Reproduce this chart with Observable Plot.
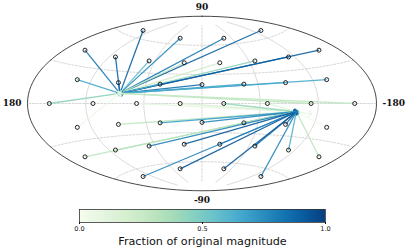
<!DOCTYPE html>
<html><head><meta charset="utf-8">
<script src="https://cdn.jsdelivr.net/npm/d3@7"></script>
<script src="https://cdn.jsdelivr.net/npm/@observablehq/plot@0.6"></script>
<style>html,body{margin:0;padding:0;background:#fff}svg{display:block}</style>
</head><body><div id="chart"></div>
<script>
const focusLon = [85.5, -98];
const focusLat = [9.5, -7.5];
const sourceLon = [
  135,45,-45,-135,
  157.5,112.5,67.5,22.5,-22.5,-67.5,-112.5,-157.5,
  135,90,45,0,-45,-90,-135,
  157.5,112.5,67.5,22.5,-22.5,-67.5,-112.5,-157.5,
  135,90,45,0,-45,-90,-135,
  157.5,112.5,67.5,22.5,-22.5,-67.5,-112.5,-157.5,
  135,45,-45,-135];
const sourceLat = [
  66.4,66.4,66.4,66.4,
  41.8,41.8,41.8,41.8,41.8,41.8,41.8,41.8,
  19.47,19.47,19.47,19.47,19.47,19.47,19.47,
  0,0,0,0,0,0,0,0,
  -19.47,-19.47,-19.47,-19.47,-19.47,-19.47,-19.47,
  -41.8,-41.8,-41.8,-41.8,-41.8,-41.8,-41.8,-41.8,
  -66.4,-66.4,-66.4,-66.4];
const target = [
  0,0,0,0,
  0,0,0,0,0,0,0,0,
  0,0,0,0,0,0,0,
  0,0,1,1,1,1,0,0,
  0,1,1,1,1,1,1,
  1,1,1,1,1,1,1,1,
  1,1,1,1];
const fraction = [
  .9,.75,.82,.9,
  .82,.88,.58,.3,.22,.45,.9,.9,
  .65,.85,.65,.85,.65,.65,.65,
  .45,.04,.08,.15,.42,.12,.3,.28,
  .05,.3,.68,.76,.9,.85,.05,
  .3,.32,.78,.92,.85,.85,.62,.3,
  .78,.92,.92,.78];
const graticuleMajor = [-60,-30,0,30,60];
const meridiansDashed = [0];
const meridiansSolid = [-120,-60,60,120];

const pairs = sourceLon.map((lon, i) => ({lon, lat: sourceLat[i], f: fraction[i], tLon: focusLon[target[i]], tLat: focusLat[target[i]]}));
const extra = [{lon:-98,lat:-7.5,tLon:-113,tLat:-9,f:.08}];

function sinci(a){ return a ? a / Math.sin(a) : 1; }
function aitoffRaw(x, y){
  const cy = Math.cos(y), s = sinci(Math.acos(cy * Math.cos(x /= 2)));
  return [2 * cy * Math.sin(x) * s, Math.sin(y) * s];
}
const projection = d3.geoProjection(aitoffRaw).scale(174.5 / Math.PI).translate([201.5, 103]).reflectX(true).precision(0.1);

const parallel = (lat) => ({type:"LineString", coordinates: d3.range(-180, 180.01, 5).map(l => [l, lat])});
const meridian = (lon) => ({type:"LineString", coordinates: d3.range(-80, 80.01, 5).map(l => [lon, l])});

const main = Plot.plot({
  width: 407, height: 205, margin: 0,
  projection,
  color: {type:"linear", scheme:"GnBu", domain:[0,1]},
  style: {background:"transparent"},
  marks: [
    Plot.geo(meridiansSolid.map(meridian), {stroke:"#ccc", strokeWidth:0.7}),
    Plot.geo(meridiansDashed.map(meridian).concat(graticuleMajor.map(parallel)), {stroke:"#c4c4c4", strokeWidth:0.7, strokeDasharray:"2,1.6"}),
    Plot.sphere({stroke:"#333", strokeWidth:0.9}),
    Plot.link(extra.concat(pairs), {x1:"lon", y1:"lat", x2:"tLon", y2:"tLat", stroke:"f", curve:"linear", strokeWidth:1.3, strokeOpacity:0.9, markerEnd:"arrow"}),
    Plot.dot(pairs, {x:"lon", y:"lat", r:2, stroke:"#222", strokeWidth:1, fill:"none"}),
    Plot.text(["90"], {x:()=>0, y:()=>90, dy:-9, fontFamily:"DejaVu Serif", fontWeight:"bold", fontSize:9, fill:"#111"}),
    Plot.text(["-90"], {x:()=>0, y:()=>-90, dy:9, fontFamily:"DejaVu Serif", fontWeight:"bold", fontSize:9, fill:"#111"}),
    Plot.text(["180"], {x:()=>179.99, y:()=>0, dx:-6, textAnchor:"end", fontFamily:"DejaVu Serif", fontWeight:"bold", fontSize:9, fill:"#111"}),
    Plot.text(["-180"], {x:()=>-179.99, y:()=>0, dx:6, textAnchor:"start", fontFamily:"DejaVu Serif", fontWeight:"bold", fontSize:9, fill:"#111"})
  ]
});

const barStep = 1/128;
const barStops = d3.range(0, 1, barStep);
const barTicks = [0, 0.5, 1];
const barTitle = "Fraction of original magnitude";
const bar = Plot.plot({
  width: 407, height: 46, marginLeft: 79, marginRight: 82, marginTop: 4, marginBottom: 29,
  x: {domain:[0,1]}, y: {domain:[0,1], axis:null},
  color: {type:"linear", scheme:"GnBu", domain:[0,1]},
  style: {fontFamily:"DejaVu Sans", background:"transparent", color:"#111"},
  marks: [
    Plot.rect(barStops, {x1:d=>d, x2:d=>Math.min(1, d+barStep*2), y1:()=>0, y2:()=>1, fill:d=>d+barStep/2}),
    Plot.frame({stroke:"#333", strokeWidth:0.8}),
    Plot.axisX({ticks:barTicks, tickFormat:".1f", tickSize:2, tickPadding:2, fontSize:6.5, label:null}),
    Plot.text([barTitle], {frameAnchor:"bottom", dy:22, fontSize:11.2, fill:"#111"})
  ]
});
const c = document.getElementById("chart");
c.appendChild(main); c.appendChild(bar);
</script></body></html>
